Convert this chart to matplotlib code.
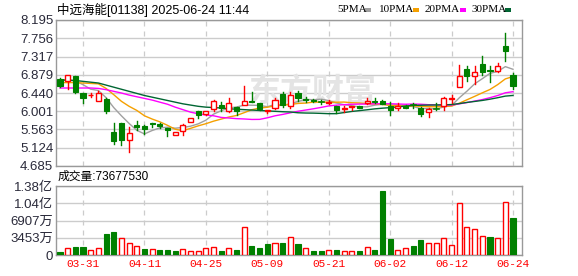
import matplotlib
matplotlib.use('Agg')
import matplotlib.pyplot as plt
import numpy as np
from matplotlib.patches import Rectangle

# ---------------- data ----------------
dates = ['03-26','03-27','03-28','03-31','04-01','04-02','04-03','04-07','04-08','04-09',
         '04-10','04-11','04-14','04-15','04-16','04-17','04-22','04-23','04-24','04-25',
         '04-28','04-29','04-30','05-02','05-06','05-07','05-08','05-09','05-12','05-13',
         '05-14','05-15','05-16','05-19','05-20','05-21','05-22','05-23','05-26','05-27',
         '05-28','05-29','05-30','06-02','06-03','06-04','06-05','06-06','06-09','06-10',
         '06-11','06-12','06-13','06-16','06-17','06-18','06-19','06-20','06-23','06-24']

opens  = [6.77,6.73,6.84,6.45,6.38,6.25,6.30,5.51,5.71,5.31,
          5.68,5.64,5.72,5.70,5.61,5.44,5.52,5.75,6.01,5.93,
          6.05,6.15,6.01,6.11,6.16,6.24,6.19,6.01,6.08,6.42,
          6.12,6.44,6.30,6.27,6.23,6.20,6.12,6.05,6.10,6.13,
          6.19,6.25,6.25,6.12,6.07,6.13,6.16,6.08,5.98,6.07,
          6.12,6.30,6.58,7.01,6.86,7.14,6.99,6.96,7.58,6.88]
highs  = [6.79,6.87,6.85,6.45,6.45,6.49,6.32,5.71,5.73,5.62,
          5.77,5.68,5.72,5.71,5.61,5.51,5.70,5.84,6.01,6.01,
          6.27,6.23,6.31,6.11,6.62,6.46,6.20,6.03,6.31,6.46,
          6.46,6.48,6.35,6.30,6.28,6.26,6.12,6.12,6.12,6.13,
          6.32,6.31,6.26,6.23,6.20,6.15,6.20,6.10,6.08,6.20,
          6.34,6.40,7.12,7.08,7.09,7.34,7.08,7.16,7.89,6.92]
lows   = [6.59,6.54,6.43,6.21,6.35,6.25,5.95,5.22,5.18,5.02,
          5.55,5.46,5.63,5.59,5.41,5.44,5.43,5.75,5.83,5.92,
          6.00,6.01,5.99,5.92,6.16,6.22,6.03,5.96,6.05,6.11,
          6.08,6.24,6.23,6.22,6.17,6.18,5.97,5.99,6.03,6.07,
          6.18,6.19,6.17,5.90,6.03,6.08,6.08,5.89,5.86,6.03,
          6.03,6.19,6.58,6.74,6.66,6.88,6.70,6.95,7.22,6.54]
closes = [6.61,6.87,6.47,6.31,6.40,6.45,6.01,5.28,5.32,5.48,
          5.63,5.57,5.69,5.64,5.56,5.51,5.66,5.84,5.92,6.00,
          6.24,6.07,6.19,6.01,6.24,6.22,6.05,6.03,6.28,6.15,
          6.40,6.32,6.28,6.24,6.22,6.23,6.03,6.07,6.12,6.08,
          6.24,6.23,6.18,6.03,6.12,6.09,6.15,5.93,6.06,6.06,
          6.32,6.32,6.86,6.86,6.94,6.94,6.96,7.09,7.44,6.62]

# volume in units of 10k shares (万)
volumes = [670,1330,1600,1600,1000,1400,4270,4670,3400,2340,
           1800,1200,1200,1000,1000,800,1130,800,800,1330,
           1530,800,1330,1000,5540,1800,1400,2200,2340,2400,
           3540,2200,1330,800,800,1000,1000,730,730,800,
           1530,1000,12800,3200,1000,1330,1800,3000,2340,2340,
           3340,1940,10340,5670,5140,3740,3600,3340,10540,7367.753]
vol_up = [0,1,0,0,1,1,0,0,1,1,1,0,1,0,0,0,1,1,1,1,
          1,0,1,0,1,0,0,0,1,0,1,0,1,0,0,1,0,1,1,0,
          1,0,0,0,1,1,0,0,1,1,1,1,1,1,1,1,0,1,1,0]

# moving-average values before a full window is available
ma5_head  = [6.75,6.75,6.73,6.64]
ma10_head = [6.69,6.69,6.69,6.68,6.67,6.66,6.55,6.40,6.24]
ma20_head = [6.56,6.56,6.56,6.56,6.56,6.55,6.52,6.48,6.44,6.39,
             6.35,6.31,6.27,6.22,6.17,6.10,6.04,5.98,5.94]
ma30_head = [6.75,6.75,6.74,6.72,6.70,6.68,6.63,6.58,6.53,6.48,
             6.43,6.38,6.34,6.30,6.26,6.22,6.18,6.15,6.12,6.10,
             6.09,6.08,6.06,6.05,6.04,6.03,6.02,6.01,6.00]

price_ticks = [4.685,5.124,5.563,6.001,6.440,6.879,7.317,7.756,8.195]
vol_ticks = [0,3453.5,6907,10360.5,13814]
vol_tick_labels = ['0','3453万','6907万','1.04亿','1.38亿']
date_tick_idx = [3,11,19,27,35,43,51,59]

title_text = '中远海能[01138] 2025-06-24 11:44'
vol_text = '成交量:73677530'
legend_items = ['5PMA','10PMA','20PMA','30PMA']
ma_colors = ['#a0a0a0','#f5a000','#ff00ff','#006633']

RED = '#ff0000'
GREEN = '#008000'

def moving_avg(n, head):
    out = list(head)
    for i in range(len(head), len(closes)):
        out.append(float(np.mean(closes[i-n+1:i+1])))
    return out

mas = [moving_avg(5, ma5_head), moving_avg(10, ma10_head),
       moving_avg(20, ma20_head), moving_avg(30, ma30_head)]

# ---------------- figure ----------------
W, H = 578, 276
fig = plt.figure(figsize=(W/100, H/100), dpi=100)
L, R = 56, 522
ax = fig.add_axes([L/W, 1-166/H, (R-L)/W, (166-20)/H])
axv = fig.add_axes([L/W, 1-255/H, (R-L)/W, (255-186)/H])

n = len(closes)
x = np.arange(n)
xlim = (-0.52, 60.17)
bw = 0.66
NUM_FONT = ['Liberation Sans', 'Noto Sans CJK SC']

for a in (ax, axv):
    a.set_xlim(*xlim)
    for s in a.spines.values():
        s.set_color('#999999')
        s.set_linewidth(1.0)
    a.tick_params(length=0, labelsize=9.5, colors='#2a2a3a', pad=2)
    a.set_xticks(date_tick_idx)
    a.set_axisbelow(True)
    for xi in date_tick_idx:
        a.axvline(xi, color='#cccccc', lw=0.9, ls=(0, (4, 4)), zorder=0)

# price panel
ax.set_ylim(price_ticks[0], price_ticks[-1])
ax.set_yticks(price_ticks)
ax.set_yticklabels(['%.3f' % v for v in price_ticks], family=NUM_FONT)
ax.set_xticklabels([])
for v in price_ticks:
    ax.axhline(v, color='#cccccc', lw=1.0, zorder=0)

ax.text(0.55, 0.50, '东方财富', transform=ax.transAxes, ha='center', va='center',
        fontsize=23, fontweight='bold', color='#e4e4e4', family=['Noto Sans CJK SC'], zorder=0.5)

for m, c in zip(mas, ma_colors):
    ax.plot(x, m, color=c, lw=1.0, zorder=2)

for i in range(n):
    o, h, l, c = opens[i], highs[i], lows[i], closes[i]
    up = c >= o
    col = RED if up else GREEN
    lo_b, hi_b = min(o, c), max(o, c)
    if hi_b - lo_b < 0.012:
        ax.plot([i-bw/2, i+bw/2], [c, c], color=col, lw=1.2, zorder=3)
        ax.plot([i, i], [l, h], color=col, lw=1.0, zorder=3)
        continue
    if up:
        ax.plot([i, i], [hi_b, h], color=col, lw=1.0, zorder=3)
        ax.plot([i, i], [l, lo_b], color=col, lw=1.0, zorder=3)
        ax.add_patch(Rectangle((i-bw/2, lo_b), bw, hi_b-lo_b, facecolor='white',
                               edgecolor=col, lw=1.0, zorder=4))
    else:
        ax.plot([i, i], [l, h], color=col, lw=1.0, zorder=3)
        ax.add_patch(Rectangle((i-bw/2, lo_b), bw, hi_b-lo_b, facecolor=col,
                               edgecolor=col, lw=0.8, zorder=4))

# volume panel
axv.set_ylim(vol_ticks[0], vol_ticks[-1])
axv.set_yticks(vol_ticks)
axv.set_yticklabels(vol_tick_labels, family=NUM_FONT)
for v in vol_ticks:
    axv.axhline(v, color='#cccccc', lw=1.0, zorder=0)
axv.set_xticklabels([dates[i] for i in date_tick_idx], family=['Liberation Mono'],
                    fontsize=8, color=RED)
axv.tick_params(axis='x', colors=RED, pad=3)
for i in range(n):
    if vol_up[i]:
        axv.add_patch(Rectangle((i-bw/2, 0), bw, volumes[i], facecolor='white',
                                edgecolor=RED, lw=1.0, zorder=3))
    else:
        axv.add_patch(Rectangle((i-bw/2, 0), bw, volumes[i], facecolor=GREEN,
                                edgecolor=GREEN, lw=0.8, zorder=3))

# texts
fig.text(57/W, 1-10/H, title_text, ha='left', va='center', fontsize=9,
         family=NUM_FONT, color='#000000')
fig.text(58/W, 1-177/H, vol_text, ha='left', va='center', fontsize=8.5,
         family=NUM_FONT, color='#000000')

leg_x = [337, 379, 425, 471]
sq_x = [365, 413, 460, 505]
for t, lx, sx, c in zip(legend_items, leg_x, sq_x, ma_colors):
    fig.text(lx/W, 1-10/H, t, ha='left', va='center', fontsize=8,
             family=['Liberation Serif'], color='#000000')
    fig.patches.append(Rectangle((sx/W, 1-12/H), 6/W, 4/H, transform=fig.transFigure,
                                 facecolor=c, edgecolor='none', figure=fig))

fig.savefig('out.png', dpi=100)
